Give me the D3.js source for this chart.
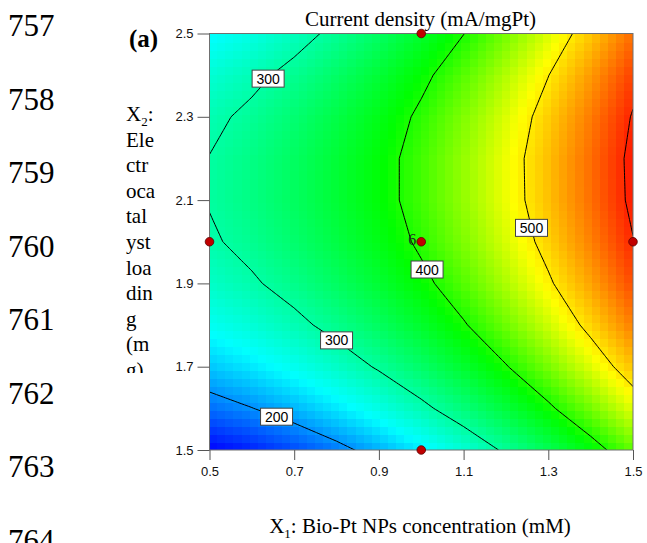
<!DOCTYPE html>
<html>
<head>
<meta charset="utf-8">
<script src="https://cdn.jsdelivr.net/npm/d3@7"></script>
<style>
  body { margin: 0; background: #fff; }
  svg { display: block; }
</style>
</head>
<body>
<svg id="chart" width="647" height="543"></svg>
<script>
// Response surface contour: current density vs Bio-Pt NPs concentration and catalyst loading

var lineNumbers = [757, 758, 759, 760, 761, 762, 763, 764];
var xTicks = [0.5, 0.7, 0.9, 1.1, 1.3, 1.5];
var yTicks = [1.5, 1.7, 1.9, 2.1, 2.3, 2.5];
var yLabelWords = ["Ele", "ctr", "oca", "tal", "yst", "loa", "din", "g", "(m", "g)"];

// grid (rows: X2 = 1.5 .. 2.5, cols: X1 = 0.5 .. 1.5)
var gridX = [0.5, 0.6, 0.7, 0.8, 0.9, 1.0, 1.1, 1.2, 1.3, 1.4, 1.5];
var gridY = [1.5, 1.6, 1.7, 1.8, 1.9, 2.0, 2.1, 2.2, 2.3, 2.4, 2.5];
var density = [
	[136.0, 150.6, 168.5, 189.6, 213.8, 241.3, 272.0, 305.9, 343.0, 383.3, 426.8],
	[184.3, 199.2, 217.3, 238.6, 263.1, 290.9, 321.8, 356.0, 393.3, 433.9, 477.6],
	[224.3, 239.5, 257.8, 279.4, 304.2, 332.2, 363.4, 397.8, 435.4, 476.2, 520.2],
	[256.1, 271.5, 290.2, 312.0, 337.0, 365.3, 396.7, 431.4, 469.2, 510.3, 554.6],
	[279.7, 295.3, 314.2, 336.3, 361.6, 390.1, 421.8, 456.7, 494.9, 536.2, 580.7],
	[295.0, 310.9, 330.1, 352.4, 377.9, 406.7, 438.7, 473.8, 512.2, 553.8, 598.6],
	[302.1, 318.3, 337.7, 360.3, 386.0, 415.1, 447.3, 482.7, 521.4, 563.2, 608.2],
	[300.9, 317.4, 337.0, 359.9, 385.9, 415.2, 447.7, 483.3, 522.2, 564.3, 609.6],
	[291.5, 308.2, 328.1, 351.2, 377.5, 407.1, 439.8, 475.7, 514.9, 557.2, 602.8],
	[273.9, 290.8, 311.0, 334.4, 360.9, 390.7, 423.7, 459.9, 499.3, 541.9, 587.7],
	[248.0, 265.2, 285.6, 309.2, 336.1, 366.1, 399.3, 435.8, 475.5, 518.3, 564.4]
];

var contourLevels = [200, 300, 400, 500, 600];

// contour labels: level and rough spot where the box sits
var labelLevels = [300, 300, 200, 400, 500];
var labelX = [0.624, 0.808, 0.666, 1.025, 1.264];
var labelY = [2.40, 1.771, 1.596, 1.937, 2.035];

// design points
var designX = [0.5, 1.0, 1.0, 1.5, 1.0];
var designY = [2.0, 2.5, 2.0, 2.0, 1.5];
var designReps = ["", "", "6", "", ""];

var colorStops = [136, 250, 390, 490, 610];
var colorRange = ["#0000ff", "#00ffff", "#00ff00", "#ffff00", "#ff1400"];

var svg = d3.select("#chart");
var serif = "'Liberation Serif', 'Times New Roman', serif";
var sans = "'Liberation Sans', Arial, sans-serif";

var xs = d3.scaleLinear().domain([0.5, 1.5]).range([209.5, 633]);
var ys = d3.scaleLinear().domain([1.5, 2.5]).range([450, 33.5]);
var color = d3.scaleLinear().domain(colorStops).range(colorRange).clamp(true);

// bilinear lookup in the grid
function valueAt(x, y) {
	var fx = (x - gridX[0]) / (gridX[1] - gridX[0]);
	var fy = (y - gridY[0]) / (gridY[1] - gridY[0]);
	var i = Math.max(0, Math.min(gridX.length - 2, Math.floor(fx)));
	var j = Math.max(0, Math.min(gridY.length - 2, Math.floor(fy)));
	var tx = fx - i, ty = fy - j;
	var a = density[j][i], b = density[j][i + 1];
	var c = density[j + 1][i], d = density[j + 1][i + 1];
	return (a * (1 - tx) + b * tx) * (1 - ty) + (c * (1 - tx) + d * tx) * ty;
}

svg.append("defs").append("clipPath").attr("id", "plot-clip")
	.append("rect")
	.attr("x", xs(0.5)).attr("y", ys(2.5))
	.attr("width", xs(1.5) - xs(0.5)).attr("height", ys(1.5) - ys(2.5));

svg.select("defs").append("clipPath").attr("id", "ylab-clip")
	.append("rect").attr("x", 100).attr("y", 90).attr("width", 80).attr("height", 283);

// heat map blocks
var nCells = 52;
var cells = [];
for (var j = 0; j < nCells; j++) {
	for (var i = 0; i < nCells; i++) {
		var x0 = 0.5 + i / nCells, x1 = 0.5 + (i + 1) / nCells;
		var y0 = 1.5 + j / nCells, y1 = 1.5 + (j + 1) / nCells;
		cells.push({x0: x0, x1: x1, y0: y0, y1: y1, v: valueAt((x0 + x1) / 2, (y0 + y1) / 2)});
	}
}
svg.append("g")
	.attr("clip-path", "url(#plot-clip)")
	.selectAll("rect")
	.data(cells)
	.enter().append("rect")
	.attr("x", c => Math.floor(xs(c.x0)))
	.attr("y", c => Math.floor(ys(c.y1)))
	.attr("width", c => Math.ceil(xs(c.x1)) - Math.floor(xs(c.x0)) + 1)
	.attr("height", c => Math.ceil(ys(c.y0)) - Math.floor(ys(c.y1)) + 1)
	.attr("fill", c => color(c.v));

// contour lines from a finer resampling of the grid
var n = 121;
var fine = new Array(n * n);
for (var r = 0; r < n; r++) {
	for (var q = 0; q < n; q++) {
		fine[r * n + q] = valueAt(0.5 + q / (n - 1), 1.5 + r / (n - 1));
	}
}
var contours = d3.contours().size([n, n]).thresholds(contourLevels)(fine);
var gx = c => 0.5 + (c - 0.5) / (n - 1);
var gy = c => 1.5 + (c - 0.5) / (n - 1);
var path = d3.geoPath(d3.geoTransform({
	point: function(x, y) { this.stream.point(xs(gx(x)), ys(gy(y))); }
}));

svg.append("g")
	.attr("clip-path", "url(#plot-clip)")
	.selectAll("path")
	.data(contours)
	.enter().append("path")
	.attr("d", path)
	.attr("fill", "none")
	.attr("stroke", "#000")
	.attr("stroke-width", 1);

// contour labels snapped to the nearest contour vertex
var labels = labelLevels.map(function(lv, k) {
	var cont = contours.find(c => c.value == lv);
	var best = null, bestD = Infinity;
	cont.coordinates.forEach(poly => poly.forEach(ring => ring.forEach(p => {
		var px = xs(gx(p[0])), py = ys(gy(p[1]));
		var d = Math.hypot(px - xs(labelX[k]), py - ys(labelY[k]));
		if (d < bestD) { bestD = d; best = [px, py]; }
	})));
	return {level: lv, x: best[0], y: best[1]};
});

var lab = svg.append("g").selectAll("g")
	.data(labels)
	.enter().append("g")
	.attr("transform", l => "translate(" + l.x + "," + l.y + ")");
lab.append("rect")
	.attr("x", -16).attr("y", -8.5).attr("width", 32).attr("height", 17)
	.attr("fill", "#fff").attr("stroke", "#444").attr("stroke-width", 1);
lab.append("text")
	.text(l => l.level)
	.attr("text-anchor", "middle")
	.attr("dy", "0.36em")
	.attr("font-family", sans).attr("font-size", 14).attr("fill", "#000");

// frame
svg.append("rect")
	.attr("x", xs(0.5)).attr("y", ys(2.5))
	.attr("width", xs(1.5) - xs(0.5)).attr("height", ys(1.5) - ys(2.5))
	.attr("fill", "none").attr("stroke", "#707070").attr("stroke-width", 1);

// axes
var xAxis = svg.append("g")
	.attr("transform", "translate(0," + ys(1.5) + ")")
	.call(d3.axisBottom(xs).tickValues(xTicks).tickFormat(d3.format(".1f")).tickSize(10).tickPadding(7));
var yAxis = svg.append("g")
	.attr("transform", "translate(" + xs(0.5) + ",0)")
	.call(d3.axisLeft(ys).tickValues(yTicks).tickFormat(d3.format(".1f")).tickSize(12).tickPadding(4));
[xAxis, yAxis].forEach(function(ax) {
	ax.select(".domain").remove();
	ax.selectAll("line").attr("stroke", "#555");
	ax.selectAll("text").attr("font-family", sans).attr("font-size", 13).attr("fill", "#111");
});

// design points
svg.append("g").selectAll("circle")
	.data(designX.map((x, k) => ({x: x, y: designY[k]})))
	.enter().append("circle")
	.attr("cx", p => xs(p.x)).attr("cy", p => ys(p.y))
	.attr("r", 4.3)
	.attr("fill", "#c00000").attr("stroke", "#5a0000").attr("stroke-width", 0.8);

svg.append("g").selectAll("text")
	.data(designX.map((x, k) => ({x: x, y: designY[k], t: designReps[k]})).filter(p => p.t))
	.enter().append("text")
	.text(p => p.t)
	.attr("x", p => xs(p.x) - 5).attr("y", p => ys(p.y) + 3)
	.attr("text-anchor", "end")
	.attr("font-family", serif).attr("font-size", 16).attr("fill", "#203020");

// title and axis labels
svg.append("text")
	.text("Current density (mA/mgPt)")
	.attr("x", 420.5).attr("y", 26)
	.attr("text-anchor", "middle")
	.attr("font-family", serif).attr("font-size", 21).attr("fill", "#000");

var xl = svg.append("text")
	.attr("x", 420).attr("y", 533)
	.attr("text-anchor", "middle")
	.attr("font-family", serif).attr("font-size", 21).attr("fill", "#000");
xl.append("tspan").text("X");
xl.append("tspan").text("1").attr("font-size", 13).attr("dy", 5);
xl.append("tspan").text(": Bio-Pt NPs concentration (mM)").attr("dy", -5);

var yl = svg.append("g").attr("clip-path", "url(#ylab-clip)")
	.append("text")
	.attr("font-family", serif).attr("font-size", 21).attr("fill", "#000");
var first = yl.append("tspan").attr("x", 126).attr("y", 121);
first.append("tspan").text("X");
first.append("tspan").text("2").attr("font-size", 13).attr("dy", 5);
first.append("tspan").text(":").attr("dy", -5);
yLabelWords.forEach(function(w, k) {
	yl.append("tspan").text(w).attr("x", 126).attr("y", 121 + (k + 1) * 25.6);
});

svg.append("text")
	.text("(a)")
	.attr("x", 129).attr("y", 47)
	.attr("font-family", serif).attr("font-size", 25).attr("font-weight", "bold").attr("fill", "#000");

// manuscript line numbers
svg.append("g").selectAll("text")
	.data(lineNumbers)
	.enter().append("text")
	.text(d => d)
	.attr("x", 8)
	.attr("y", (d, k) => 36 + k * 73.5)
	.attr("font-family", serif).attr("font-size", 31).attr("fill", "#000");
</script>
</body>
</html>
